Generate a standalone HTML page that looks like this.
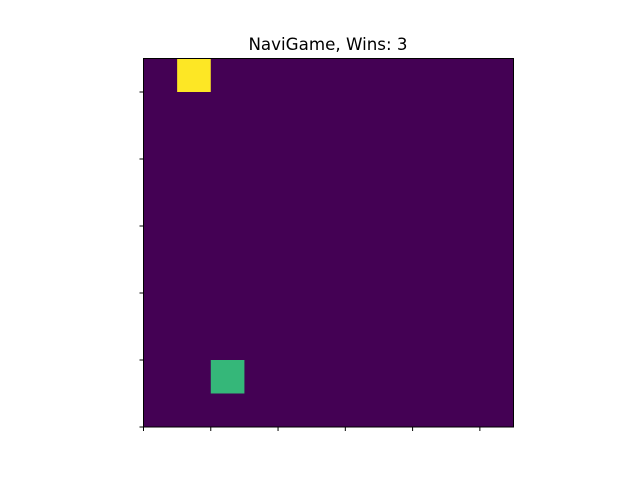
<!DOCTYPE html>
<html><head><meta charset="utf-8"><style>
body{margin:0;background:#fff;}
svg{display:block;font-family:"DejaVu Sans","Liberation Sans",sans-serif;}
</style></head><body>
<svg id="chart" width="640" height="480" viewBox="0 0 640 480">
<text x="328" y="50" text-anchor="middle" font-size="16.7" fill="#000">NaviGame, Wins: 3</text>
<g id="cells"></g>
<rect x="143.5" y="58.5" width="370" height="368.5" fill="none" stroke="#000" stroke-width="1"/>
<g id="ticks"></g>
</svg>
<script>
const gridSize = 11;
const cellCols = [1, 2];
const cellRows = [10, 1];
const cellValues = [1.0, 0.6];
const xTicks = [0, 2, 4, 6, 8, 10];
const yTicks = [0, 2, 4, 6, 8, 10];

const x0 = 143.5, x1 = 513.5, y0 = 427, y1 = 58.5;
const cw = (x1 - x0) / gridSize, ch = (y0 - y1) / gridSize;
const xs = v => x0 + v * cw;
const ys = v => y0 - v * ch;
const ns = "http://www.w3.org/2000/svg";
function viridis(t){
  const stops=[[0,[68,1,84]],[0.25,[59,82,139]],[0.5,[33,145,140]],[0.6,[53,183,121]],[0.75,[94,201,98]],[1,[253,231,37]]];
  for(let i=1;i<stops.length;i++){
    if(t<=stops[i][0]){
      const a=stops[i-1],b=stops[i],f=(t-a[0])/(b[0]-a[0]);
      return `rgb(${a[1].map((c,k)=>Math.round(c+(b[1][k]-c)*f)).join(",")})`;
    }
  }
  return "rgb(253,231,37)";
}
const cg = document.getElementById("cells");
const bg = document.createElementNS(ns,"rect");


bg.setAttribute("x",x0);bg.setAttribute("y",y1);bg.setAttribute("width",x1-x0);bg.setAttribute("height",y0-y1);
bg.setAttribute("fill",viridis(0));
cg.appendChild(bg);
cellCols.forEach((c,i)=>{
  const r=document.createElementNS(ns,"rect");
  
  
  r.setAttribute("x",xs(c));r.setAttribute("y",ys(cellRows[i]+1));
  r.setAttribute("width",cw);r.setAttribute("height",ch);
  r.setAttribute("fill",viridis(cellValues[i]));
  cg.appendChild(r);
});
const tg=document.getElementById("ticks");
xTicks.forEach(v=>{
  const l=document.createElementNS(ns,"line");
  
  
  l.setAttribute("x1",xs(v));l.setAttribute("x2",xs(v));l.setAttribute("y1",y0);l.setAttribute("y2",y0+4);
  l.setAttribute("stroke","#000");
  tg.appendChild(l);
});
yTicks.forEach(v=>{
  const l=document.createElementNS(ns,"line");
  
  
  l.setAttribute("x1",x0-4);l.setAttribute("x2",x0);l.setAttribute("y1",ys(v));l.setAttribute("y2",ys(v));
  l.setAttribute("stroke","#000");
  tg.appendChild(l);
});
</script>
</body></html>
